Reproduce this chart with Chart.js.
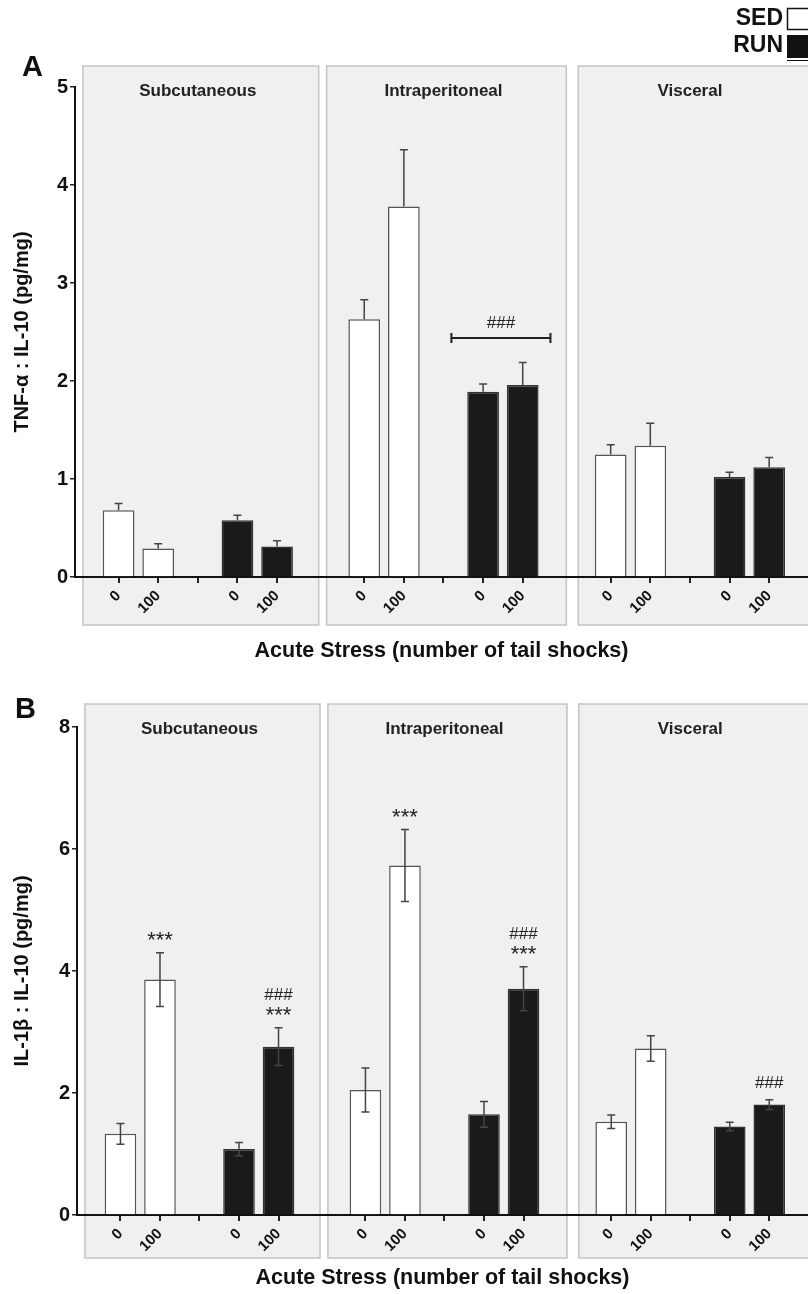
<!DOCTYPE html>
<html>
<head>
<meta charset="utf-8">
<script src="https://cdn.jsdelivr.net/npm/chart.js@4.4.0/dist/chart.umd.min.js"></script>
<style>
  html, body { margin: 0; padding: 0; background: #fff; }
  canvas { position: absolute; left: 0; }
  #chartA { top: 0; }
  #chartB { top: 670px; }
</style>
</head>
<body>
<canvas id="chartA" width="808" height="670"></canvas>
<canvas id="chartB" width="808" height="624"></canvas>
<script>
const regions = ["Subcutaneous", "Intraperitoneal", "Visceral"];
const tickText = ["0", "100", "", "0", "100"];
const seriesNames = ["SED", "RUN"];

// Panel A: TNF-a : IL-10, per region [0 shocks, 100 shocks]
const tnfSed = [0.68, 0.29, 2.63, 3.78, 1.25, 1.34];
const tnfSedErr = [0.07, 0.05, 0.20, 0.58, 0.10, 0.23];
const tnfRun = [0.58, 0.31, 1.89, 1.96, 1.02, 1.12];
const tnfRunErr = [0.05, 0.06, 0.08, 0.23, 0.05, 0.10];
const tnfTicks = [0, 1, 2, 3, 4, 5];
// RUN vs SED bracket (intraperitoneal)
const tnfBracket = { region: 1, label: "###", level: 2.44 };

// Panel B: IL-1b : IL-10
const il1Sed = [1.33, 3.86, 2.05, 5.73, 1.53, 2.73];
const il1SedErr = [0.17, 0.44, 0.36, 0.59, 0.11, 0.21];
const il1Run = [1.08, 2.76, 1.65, 3.71, 1.45, 1.81];
const il1RunErr = [0.11, 0.31, 0.21, 0.36, 0.07, 0.08];
const il1Ticks = [0, 2, 4, 6, 8];
// significance marks, top line first
const il1SedMarks = [[], ["***"], [], ["***"], [], []];
const il1RunMarks = [[], ["###", "***"], [], ["###", "***"], [], ["###"]];

// x layout in slot units: each region has 0,100,(gap),0,100
const groupStart = [0, 6.2, 12.42];
const panelSpans = [[-0.9, 5.05], [5.25, 11.3], [11.6, 18.5]];
const tickSlots = groupStart.flatMap((g) => [g, g + 1, g + 2, g + 3, g + 4]);
const slotX = (i, offset) => groupStart[Math.floor(i / 2)] + offset + (i % 2);

const FONT = "'Liberation Sans', Arial, Helvetica, sans-serif";

const panelPlugin = {
  id: "panels",
  beforeDraw(chart, args, opts) {
    const { ctx, chartArea } = chart;
    const x = chart.scales.x;
    ctx.save();
    panelSpans.forEach(([a, b], r) => {
      const left = x.getPixelForValue(a);
      const right = x.getPixelForValue(b);
      const top = chartArea.top - opts.above;
      const bottom = chartArea.bottom + opts.below;
      ctx.fillStyle = "#f0f0f0";
      ctx.fillRect(left, top, right - left, bottom - top);
      ctx.strokeStyle = "#c4c4c4";
      ctx.lineWidth = 1.5;
      ctx.strokeRect(left, top, right - left, bottom - top);
      ctx.fillStyle = "#222";
      ctx.font = "bold 17px " + FONT;
      ctx.textAlign = "center";
      ctx.textBaseline = "middle";
      ctx.fillText(regions[r], x.getPixelForValue(groupStart[r] + 2), chartArea.top + opts.titleDy);
    });
    // panel letter
    ctx.fillStyle = "#111";
    ctx.font = "bold 29px " + FONT;
    ctx.textAlign = "left";
    ctx.fillText(opts.letter, opts.letterX, opts.letterY);
    ctx.restore();
  },
};

const errorPlugin = {
  id: "errors",
  afterDatasetsDraw(chart, args, opts) {
    const { ctx } = chart;
    const y = chart.scales.y;
    ctx.save();
    chart.data.datasets.forEach((ds, di) => {
      const meta = chart.getDatasetMeta(di);
      meta.data.forEach((bar, i) => {
        const v = ds.data[i].y;
        const e = ds.errors[i];
        const hi = y.getPixelForValue(v + e);
        const lo = y.getPixelForValue(v - e);
        ctx.strokeStyle = "#444";
        ctx.lineWidth = 1.5;
        ctx.beginPath();
        ctx.moveTo(bar.x, bar.y);
        ctx.lineTo(bar.x, hi);
        ctx.moveTo(bar.x - 4, hi);
        ctx.lineTo(bar.x + 4, hi);
        if (opts.both) {
          ctx.moveTo(bar.x, bar.y);
          ctx.lineTo(bar.x, lo);
          ctx.moveTo(bar.x - 4, lo);
          ctx.lineTo(bar.x + 4, lo);
        }
        ctx.stroke();
        // significance marks
        const marks = ds.marks ? ds.marks[i] : [];
        let cy = hi - 18;
        for (let k = marks.length - 1; k >= 0; k--) {
          const txt = marks[k];
          const star = txt[0] === "*";
          const fs = star ? 22 : 17;
          ctx.font = fs + "px " + FONT;
          ctx.fillStyle = "#222";
          ctx.textAlign = "center";
          ctx.textBaseline = "alphabetic";
          ctx.fillText(txt, bar.x, cy + (star ? 0.57 : 0.36) * fs);
          cy -= 16;
        }
      });
    });
    // bracket
    if (opts.bracket) {
      const br = opts.bracket;
      const x = chart.scales.x;
      const g = groupStart[br.region];
      const x1 = x.getPixelForValue(g + 2.2);
      const x2 = x.getPixelForValue(g + 4.7);
      const by = y.getPixelForValue(br.level);
      ctx.strokeStyle = "#222";
      ctx.lineWidth = 2;
      ctx.beginPath();
      ctx.moveTo(x1, by - 5); ctx.lineTo(x1, by + 5);
      ctx.moveTo(x1, by); ctx.lineTo(x2, by);
      ctx.moveTo(x2, by - 5); ctx.lineTo(x2, by + 5);
      ctx.stroke();
      ctx.font = "17px " + FONT;
      ctx.fillStyle = "#222";
      ctx.textAlign = "center";
      ctx.textBaseline = "alphabetic";
      ctx.fillText(br.label, (x1 + x2) / 2, by - 16 + 0.36 * 17);
    }
    ctx.restore();
  },
};

const legendPlugin = {
  id: "sedRunLegend",
  afterDraw(chart, args, opts) {
    if (!opts.show) return;
    const { ctx } = chart;
    ctx.save();
    ctx.font = "bold 23px " + FONT;
    ctx.fillStyle = "#111";
    ctx.textAlign = "right";
    ctx.textBaseline = "middle";
    ctx.fillText(seriesNames[0], 783, 19);
    ctx.fillText(seriesNames[1], 783, 46);
    ctx.fillStyle = "#fff";
    ctx.fillRect(787, 8, 30, 22);
    ctx.strokeStyle = "#111";
    ctx.lineWidth = 1.5;
    ctx.strokeRect(787.5, 8.5, 30, 21);
    ctx.fillStyle = "#111";
    ctx.fillRect(787, 35, 30, 23);
    ctx.lineWidth = 1;
    ctx.beginPath();
    ctx.moveTo(787, 60.5); ctx.lineTo(808, 60.5);
    ctx.stroke();
    ctx.restore();
  },
};

function makeChart(id, cfg) {
  const datasets = [
    {
      label: seriesNames[0],
      data: cfg.sed.map((v, i) => ({ x: slotX(i, 0), y: v })),
      errors: cfg.sedErr,
      marks: cfg.sedMarks,
      backgroundColor: "#ffffff",
      borderColor: "#555",
      borderWidth: 1.5,
    },
    {
      label: seriesNames[1],
      data: cfg.run.map((v, i) => ({ x: slotX(i, 3), y: v })),
      errors: cfg.runErr,
      marks: cfg.runMarks,
      backgroundColor: "#1a1a1a",
      borderColor: "#333",
      borderWidth: 1.5,
    },
  ];

  return new Chart(document.getElementById(id), {
    type: "bar",
    data: { datasets },
    options: {
      responsive: false,
      animation: false,
      layout: { padding: { top: cfg.padTop, left: 0, right: 0, bottom: 0 } },
      datasets: { bar: { grouped: false, categoryPercentage: 0.8, barPercentage: 1.0 } },
      scales: {
        x: {
          type: "linear",
          min: -1.1,
          max: 17.4,
          offset: false,
          afterBuildTicks: (axis) => {
            axis.ticks = tickSlots.map((v) => ({ value: v }));
          },
          afterFit: (scale) => {
            scale.height = cfg.xHeight;
          },
          ticks: {
            autoSkip: false,
            minRotation: 45,
            maxRotation: 45,
            padding: 4,
            color: "#111",
            font: { family: FONT, size: 15, weight: "bold" },
            callback: (value, index) => tickText[index % 5],
          },
          grid: {
            offset: false,
            drawOnChartArea: false,
            tickLength: 6,
            lineWidth: 2,
            color: "#222",
          },
          border: { color: "#111", width: 2 },
          title: {
            display: true,
            text: "Acute Stress (number of tail shocks)",
            color: "#111",
            font: { family: FONT, size: 21.5, weight: "bold" },
            padding: { top: 0, bottom: cfg.xTitlePad },
          },
        },
        y: {
          min: 0,
          max: cfg.ticks[cfg.ticks.length - 1],
          afterBuildTicks: (axis) => {
            axis.ticks = cfg.ticks.map((v) => ({ value: v }));
          },
          afterFit: (scale) => {
            scale.width = cfg.yWidth;
          },
          ticks: {
            padding: 2,
            color: "#111",
            font: { family: FONT, size: 20, weight: "bold" },
          },
          grid: {
            drawOnChartArea: false,
            tickLength: 5,
            lineWidth: 1.5,
            color: "#222",
          },
          border: { color: "#111", width: 2 },
          title: {
            display: true,
            text: cfg.yTitle,
            color: "#111",
            font: { family: FONT, size: 20, weight: "bold" },
            padding: { top: 10, bottom: 0 },
          },
        },
      },
      plugins: {
        legend: { display: false },
        tooltip: { enabled: false },
        panels: cfg.panels,
        errors: { both: cfg.both, bracket: cfg.bracket },
        sedRunLegend: { show: cfg.legend },
      },
    },
    plugins: [panelPlugin, errorPlugin, legendPlugin],
  });
}

makeChart("chartA", {
  sed: tnfSed, sedErr: tnfSedErr, run: tnfRun, runErr: tnfRunErr,
  ticks: tnfTicks,
  yTitle: "TNF-\u03b1 : IL-10 (pg/mg)",
  padTop: 87, xHeight: 93, yWidth: 75, xTitlePad: 6,
  both: false, bracket: tnfBracket, legend: true,
  panels: { above: 21, below: 48, titleDy: 4, letter: "A", letterX: 22, letterY: 68 },
});

makeChart("chartB", {
  sed: il1Sed, sedErr: il1SedErr, run: il1Run, runErr: il1RunErr,
  sedMarks: il1SedMarks, runMarks: il1RunMarks,
  ticks: il1Ticks,
  yTitle: "IL-1\u03b2 : IL-10 (pg/mg)",
  padTop: 57, xHeight: 79, yWidth: 77, xTitlePad: 3,
  both: true, bracket: null, legend: false,
  panels: { above: 23, below: 43, titleDy: 2, letter: "B", letterX: 15, letterY: 40 },
});
</script>
</body>
</html>
